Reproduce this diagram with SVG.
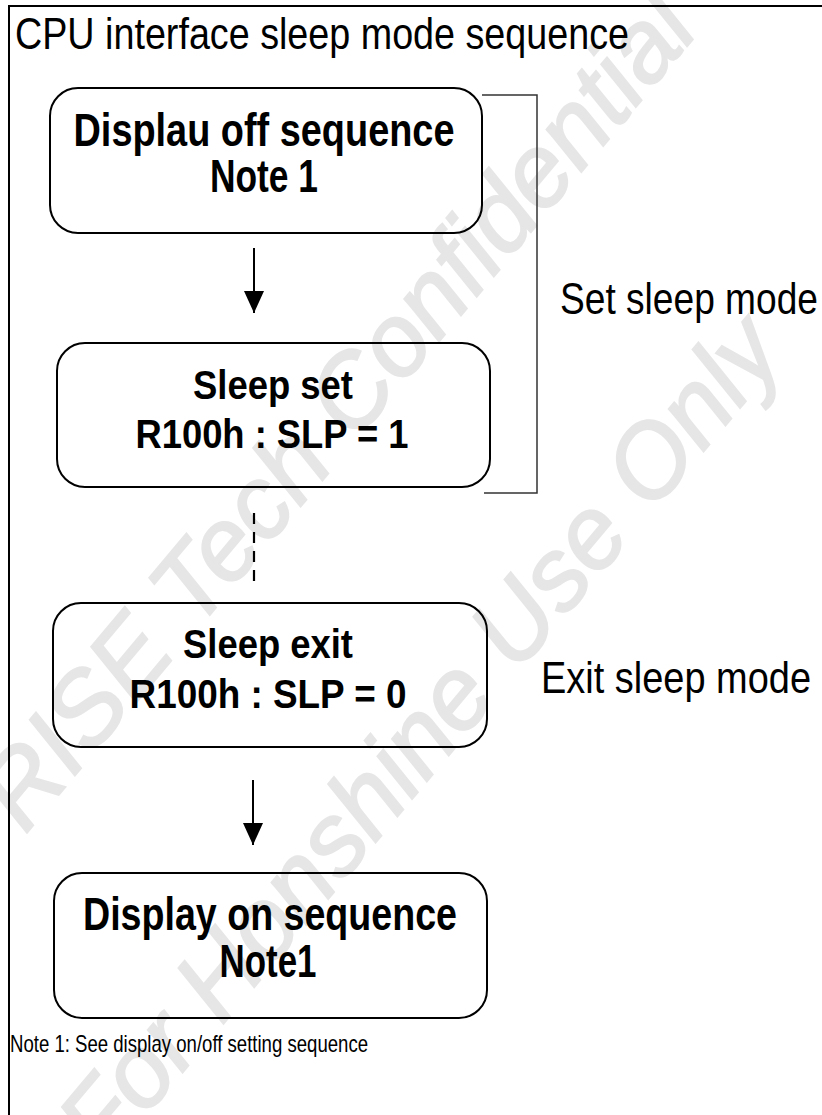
<svg xmlns="http://www.w3.org/2000/svg" width="822" height="1115" viewBox="0 0 822 1115">
  <defs>
    <style>
      .frame { fill: none; stroke: #000; stroke-width: 2; }
      .box { fill: none; stroke: #000; stroke-width: 2; }
      .bracket { fill: none; stroke: #333; stroke-width: 1.5; }
      .conn { fill: none; stroke: #000; stroke-width: 2; }
      .dash { stroke-dasharray: 11 8; stroke-width: 2.2; }
      .bold { font-family: "Liberation Sans", Arial, sans-serif; font-weight: bold; fill: #000; text-anchor: middle; }
      .reg { font-family: "Liberation Sans", Arial, sans-serif; fill: #000; }
      .wm { font-family: "Liberation Sans", Arial, sans-serif; font-style: italic; fill: #e6e6e6; stroke: #e6e6e6; stroke-width: 2; font-size: 102px; }
    </style>
    <marker id="arrow" viewBox="0 0 22 20" refX="22" refY="10" markerWidth="22" markerHeight="20" markerUnits="userSpaceOnUse" orient="auto">
      <path d="M0,0 L22,10 L0,20 Z" fill="#000"/>
    </marker>
  </defs>
  <rect width="822" height="1115" fill="#fff"/>

  <g id="watermark">
    <text class="wm" transform="translate(25,835) rotate(-50)">RISE Tech Confidential</text>
    <text class="wm" transform="translate(105,1165) rotate(-50)">For Honshine Use Only</text>
  </g>

  <g id="frame">
    <path class="frame" d="M9,1115 V6 H822"/>
  </g>

  <g id="title">
    <text class="reg" x="15" y="49" font-size="45" textLength="614" lengthAdjust="spacingAndGlyphs">CPU interface sleep mode sequence</text>
  </g>

  <g id="node-display-off">
    <rect class="box" x="50" y="88" width="432" height="145" rx="28" ry="28"/>
    <text class="bold" x="264" y="146" font-size="46" textLength="381" lengthAdjust="spacingAndGlyphs">Displau off sequence</text>
    <text class="bold" x="264" y="192" font-size="46" textLength="108" lengthAdjust="spacingAndGlyphs">Note 1</text>
  </g>

  <g id="node-sleep-set">
    <rect class="box" x="57" y="343" width="433" height="144" rx="28" ry="28"/>
    <text class="bold" x="273" y="399" font-size="41" textLength="160" lengthAdjust="spacingAndGlyphs">Sleep set</text>
    <text class="bold" x="272" y="448" font-size="41" textLength="273" lengthAdjust="spacingAndGlyphs">R100h : SLP = 1</text>
  </g>

  <g id="node-sleep-exit">
    <rect class="box" x="53" y="603" width="434" height="144" rx="28" ry="28"/>
    <text class="bold" x="268" y="658" font-size="41" textLength="170" lengthAdjust="spacingAndGlyphs">Sleep exit</text>
    <text class="bold" x="268" y="708" font-size="41" textLength="277" lengthAdjust="spacingAndGlyphs">R100h : SLP = 0</text>
  </g>

  <g id="node-display-on">
    <rect class="box" x="54" y="873" width="433" height="145" rx="28" ry="28"/>
    <text class="bold" x="270" y="930" font-size="46" textLength="374" lengthAdjust="spacingAndGlyphs">Display on sequence</text>
    <text class="bold" x="268" y="977" font-size="46" textLength="97" lengthAdjust="spacingAndGlyphs">Note1</text>
  </g>

  <g id="label-set-sleep">
    <path class="bracket" d="M482,95 H537 V493 H484"/>
    <text class="reg" x="560" y="314" font-size="44" textLength="258" lengthAdjust="spacingAndGlyphs">Set sleep mode</text>
  </g>

  <g id="label-exit-sleep">
    <text class="reg" x="541" y="693" font-size="44" textLength="270" lengthAdjust="spacingAndGlyphs">Exit sleep mode</text>
  </g>

  <g id="connectors">
    <path class="conn" d="M254,248 V313" marker-end="url(#arrow)"/>
    <path class="conn dash" d="M254,513 V582"/>
    <path class="conn" d="M253,780 V845" marker-end="url(#arrow)"/>
  </g>

  <g id="footnote">
    <text class="reg" x="10" y="1052" font-size="24" textLength="358" lengthAdjust="spacingAndGlyphs">Note 1: See display on/off setting sequence</text>
  </g>
</svg>
